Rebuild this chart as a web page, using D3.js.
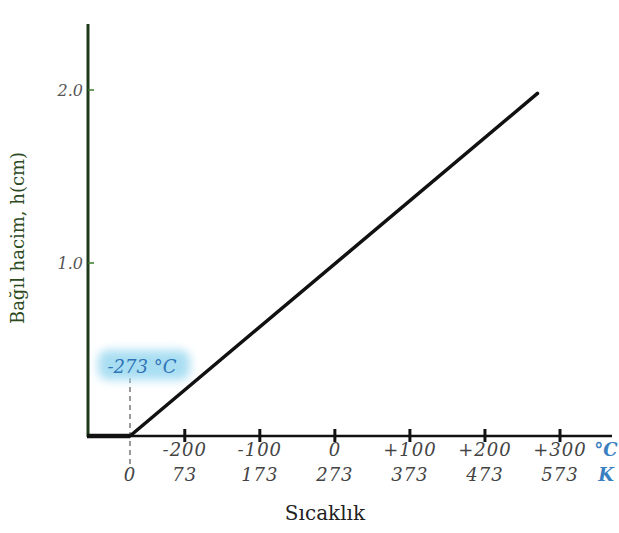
<!DOCTYPE html>
<html><head><meta charset="utf-8">
<script src="https://cdn.jsdelivr.net/npm/d3@7"></script>
<style>body{margin:0;background:#fff}</style>
</head><body>
<svg id="c" width="619" height="533"></svg>
<script>
// Data
const kelvinTicks = [73, 173, 273, 373, 473, 573];
const celsiusLabels = ["-200", "-100", "0", "+100", "+200", "+300"];
const kelvinLabels = ["73", "173", "273", "373", "473", "573"];
const yTicks = [1.0, 2.0];
const lineK = [0, 543];
const lineH = [0, 1.98];

const svg = d3.select("#c");
const x = d3.scaleLinear().domain([0, 573]).range([130, 560]);
const y = d3.scaleLinear().domain([0, 2]).range([436, 90]);
const axisLeft = 88;
const serif = "DejaVu Serif, serif";

// Y axis
svg.append("line").attr("x1", axisLeft).attr("x2", axisLeft).attr("y1", 24).attr("y2", 437)
  .attr("stroke", "#1f3a1a").attr("stroke-width", 3);
// X axis
svg.append("line").attr("x1", axisLeft - 1).attr("x2", 612).attr("y1", y(0)).attr("y2", y(0))
  .attr("stroke", "#111").attr("stroke-width", 2.5);
svg.append("line").attr("x1", axisLeft - 1).attr("x2", x(0)).attr("y1", y(0)).attr("y2", y(0))
  .attr("stroke", "#111").attr("stroke-width", 4.5);

// Y ticks
const yt = svg.selectAll(".yt").data(yTicks).enter().append("g");
yt.append("line").attr("x1", axisLeft).attr("x2", axisLeft + 6)
  .attr("y1", d => y(d)).attr("y2", d => y(d)).attr("stroke", "#3a7a2a").attr("stroke-width", 1.5);
yt.append("text").attr("x", axisLeft - 5).attr("y", d => y(d) + 6).attr("text-anchor", "end")
  .attr("font-family", serif).attr("font-style", "italic").attr("font-size", 16)
  .attr("fill", "#555").text(d => d.toFixed(1));

// X ticks
svg.selectAll(".xt").data(kelvinTicks).enter().append("line")
  .attr("x1", d => x(d)).attr("x2", d => x(d)).attr("y1", y(0) - 7).attr("y2", y(0) + 6)
  .attr("stroke", "#111").attr("stroke-width", 3);

const tickText = sel => sel.attr("text-anchor", "middle").attr("font-family", serif)
  .attr("font-style", "italic").attr("font-size", 18).attr("letter-spacing", 1).attr("fill", "#444");
svg.selectAll(".cl").data(kelvinTicks).enter().append("text")
  .attr("x", d => x(d)).attr("y", 456).call(tickText).text((d, i) => celsiusLabels[i]);
svg.selectAll(".kl").data(kelvinTicks).enter().append("text")
  .attr("x", d => x(d)).attr("y", 481).call(tickText).text((d, i) => kelvinLabels[i]);
svg.append("text").attr("x", x(0)).attr("y", 481).call(tickText).text("0");

// Units
svg.append("text").attr("x", 606).attr("y", 456).attr("text-anchor", "middle")
  .attr("font-family", serif).attr("font-style", "italic").attr("font-weight", "bold")
  .attr("font-size", 18).attr("fill", "#3a7fc0").text("°C");
svg.append("text").attr("x", 606).attr("y", 481).attr("text-anchor", "middle")
  .attr("font-family", serif).attr("font-style", "italic").attr("font-weight", "bold")
  .attr("font-size", 18).attr("fill", "#3a7fc0").text("K");

// Dashed line at 0 K
svg.append("line").attr("x1", x(0)).attr("x2", x(0)).attr("y1", 378).attr("y2", 468)
  .attr("stroke", "#333").attr("stroke-width", 1).attr("stroke-dasharray", "5,4");

// -273 °C label with glow
const defs = svg.append("defs");
const f = defs.append("filter").attr("id", "blur").attr("x", "-30%").attr("y", "-50%").attr("width", "160%").attr("height", "200%");
f.append("feGaussianBlur").attr("stdDeviation", 5);
svg.append("rect").attr("x", 98).attr("y", 350).attr("width", 92).attr("height", 30).attr("rx", 10)
  .attr("fill", "#a9def2").attr("filter", "url(#blur)");
svg.append("text").attr("x", 142).attr("y", 373).attr("text-anchor", "middle")
  .attr("font-family", serif).attr("font-style", "italic")
  .attr("font-size", 18).attr("fill", "#2f74b8").text("-273 °C");

// Data line
const line = d3.line().x(d => x(d[0])).y(d => y(d[1]));
svg.append("path").datum(lineK.map((k, i) => [k, lineH[i]])).attr("d", line)
  .attr("fill", "none").attr("stroke", "#111").attr("stroke-width", 3.5).attr("stroke-linecap", "round");

// Axis titles
svg.append("text").attr("transform", "translate(24,238) rotate(-90)").attr("text-anchor", "middle")
  .attr("font-family", serif).attr("font-size", 18).attr("fill", "#2d4a1e")
  .text("Bağıl hacim, h(cm)");
svg.append("text").attr("x", 325).attr("y", 520).attr("text-anchor", "middle")
  .attr("font-family", serif).attr("font-size", 20).attr("fill", "#222")
  .text("Sıcaklık");
</script>
</body></html>
